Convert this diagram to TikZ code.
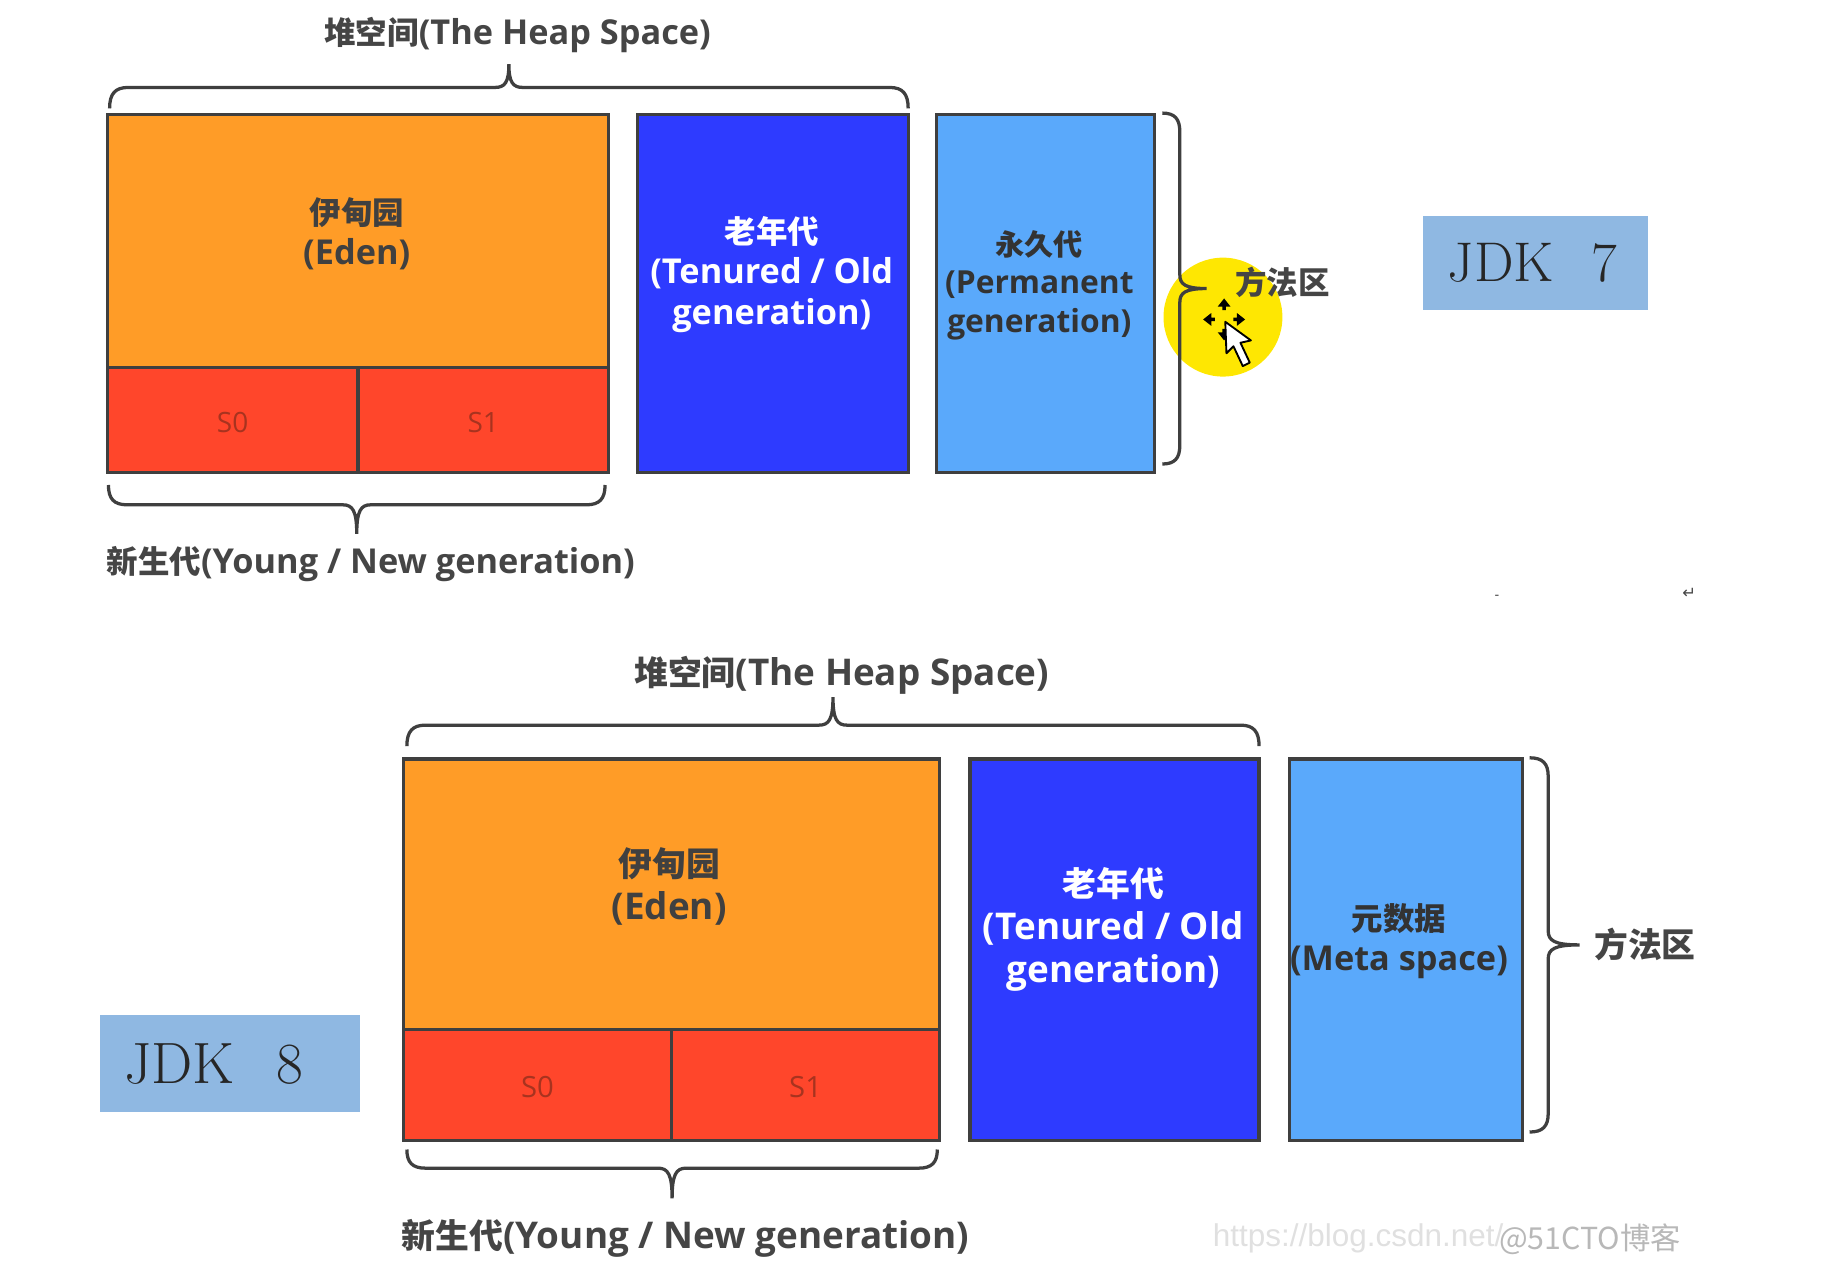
\documentclass[tikz,border=0pt]{standalone}
\usepackage{fontspec}
\newfontfamily\heapfont[Scale=1.09]{Open Sans}
\newfontfamily\zhfont{Noto Sans CJK SC}
\newfontfamily\markfont{Liberation Sans}
\newfontfamily\symfont{DejaVu Sans}
\newcommand{\zh}[1]{{\zhfont #1}}
\usetikzlibrary{positioning,decorations.pathreplacing}
\definecolor{edencol}{HTML}{FF9C27}
\definecolor{survcol}{HTML}{FF462B}
\definecolor{oldcol}{HTML}{2E3BFF}
\definecolor{permcol}{HTML}{5AA9FB}
\definecolor{jdkcol}{HTML}{8FB8E2}
\definecolor{linecol}{HTML}{3F3F3F}
\definecolor{labelcol}{HTML}{454545}
\definecolor{survtext}{HTML}{A8331F}
\pgfdeclaredecoration{softbrace}{brace}{
	\state{brace}[width=+\pgfdecoratedremainingdistance, next state=final]{
		\def\hk{\pgfdecorationsegmentamplitude}
		\def\ln{\pgfdecoratedpathlength}
		\pgfpathmoveto{\pgfpoint{0pt}{0pt}}
		\pgfpathcurveto{\pgfpoint{0pt}{0.7*\hk}}{\pgfpoint{2.4pt}{\hk}}{\pgfpoint{8pt}{\hk}}
		\pgfpathlineto{\pgfpoint{0.5*\ln-6pt}{\hk}}
		\pgfpathcurveto{\pgfpoint{0.5*\ln-1.8pt}{\hk}}{\pgfpoint{0.5*\ln}{\hk+0.2*\bracetip}}{\pgfpoint{0.5*\ln}{\hk+\bracetip}}
		\pgfpathcurveto{\pgfpoint{0.5*\ln}{\hk+0.2*\bracetip}}{\pgfpoint{0.5*\ln+1.8pt}{\hk}}{\pgfpoint{0.5*\ln+6pt}{\hk}}
		\pgfpathlineto{\pgfpoint{\ln-8pt}{\hk}}
		\pgfpathcurveto{\pgfpoint{\ln-2.4pt}{\hk}}{\pgfpoint{\ln}{0.7*\hk}}{\pgfpoint{\ln}{0pt}}
	}
	\state{final}{\pgfpathmoveto{\pgfpointdecoratedpathlast}}
}
\tikzset{
	region/.style = {draw=linecol, line width=1.4pt, rectangle, outer sep=0pt, inner sep=0pt},
	bracket/.style 2 args = {draw=linecol, line width=1.4pt, decorate, decoration={softbrace, amplitude=#1}, /utils/exec={\def\bracetip{#2}}},
	heading/.style = {font=\heapfont\bfseries\fontsize{#1}{#1}\selectfont, text=labelcol, inner sep=0pt},
	inbox/.style 2 args = {font=\heapfont\bfseries\fontsize{#1}{#2}\selectfont, align=center, inner sep=0pt},
	jdkbox/.style = {fill=jdkcol, rectangle, inner sep=0pt, text=black!85},
	survlbl/.style = {font=\heapfont\fontsize{#1}{#1}\selectfont, text=survtext, inner sep=0pt},
}
\begin{document}
\begin{tikzpicture}[x=0.5pt, y=-0.5pt]
	\useasboundingbox (0,0) rectangle (1568,1093);

	% JDK 7
	\node[region, fill=edencol, anchor=north west, minimum width=215pt, minimum height=108.5pt] (eden7) at (92,98) {};
	\node[region, fill=survcol, below right=0pt and 0pt of eden7.south west, minimum width=107.5pt, minimum height=45pt] (sa7) {};
	\node[region, fill=survcol, right=0pt of sa7, minimum width=107.5pt, minimum height=45pt] (sb7) {};
	\node[region, fill=oldcol, below right=0pt and 12.5pt of eden7.north east, minimum width=116pt, minimum height=153.5pt] (old7) {};
	\node[region, fill=permcol, right=12pt of old7, minimum width=93.5pt, minimum height=153.5pt] (perm7) {};
	\node[jdkbox, font=\fontsize{24}{24}\selectfont, minimum width=96.5pt, minimum height=40.5pt] (jdk7) at (1317.5,225.5) {JDK\hspace{16pt}7\hspace{3pt}\null};

	\node[inbox={13.5}{17}, text=black!75] (edenlbl7) at ([shift={(-1,-6)}]eden7) {\zh{伊甸园}\\(Eden)};
	\node[survlbl=11] (salbl7) at ([yshift=-1pt]sa7) {S0};
	\node[survlbl=11] (sblbl7) at ([yshift=-1pt]sb7) {S1};
	\node[inbox={13.5}{17.5}, text=white] (oldlbl7) at ([shift={(-1,-16)}]old7) {\zh{老年代}\\(Tenured / Old\\generation)};
	\node[inbox={12.5}{16.5}, text=black!80] (permlbl7) at ([shift={(-5,-7)}]perm7) {\zh{永久代}\\(Permanent\\generation)};

	\fill[yellow!90!orange] (1049,272) circle (51);
	\draw[bracket={7.5pt}{11.5pt}] ([shift={(7,-1)}]perm7.north east) -- ([shift={(7,-7)}]perm7.south east);
	\foreach \ang in {0,90,180,270} {
		\fill[black, shift={(1050,274)}, rotate=\ang] (8,-1.5) -- (11,-1.5) -- (11,-5.5) -- (18,0) -- (11,5.5) -- (11,1.5) -- (8,1.5) -- cycle;
	}
	\draw[fill=white, line width=0.8pt, line join=round] (1051,276) -- (1052,303) -- (1058,297) -- (1066,314) -- (1072,311) -- (1064,294) -- (1073,292) -- cycle;
	\node[heading=13.5] (methodlbl7) at (1100,242) {\zh{方法区}};

	\draw[bracket={9pt}{10pt}] ([shift={(2,-5)}]eden7.north west) -- ([shift={(0,-5)}]old7.north east);
	\node[heading=13.5] (heaplbl7) at (444,30) {\zh{堆空间}(The Heap Space)};
	\draw[bracket={8.5pt}{12.5pt}] ([shift={(-3,11)}]sb7.south east) -- ([shift={(1,11)}]sa7.south west);
	\node[heading=13.5] (younglbl7) at (318,484) {\zh{新生代}(Young / New generation)};

	% stray marks
	\node[font=\markfont\fontsize{6}{6}\selectfont, text=labelcol, inner sep=0pt] (dashmark) at (1284,512) {-};
	\node[font=\symfont\fontsize{7}{7}\selectfont, text=labelcol, inner sep=0pt] (retmark) at (1449,509) {↵};

	% JDK 8
	\node[region, fill=edencol, anchor=north west, minimum width=230pt, minimum height=116pt] (eden8) at (346,651) {};
	\node[region, fill=survcol, below right=0pt and 0pt of eden8.south west, minimum width=115pt, minimum height=47.5pt] (sa8) {};
	\node[region, fill=survcol, right=0pt of sa8, minimum width=115pt, minimum height=47.5pt] (sb8) {};
	\node[region, fill=oldcol, below right=0pt and 13pt of eden8.north east, minimum width=124pt, minimum height=163.5pt] (old8) {};
	\node[region, fill=permcol, right=13pt of old8, minimum width=100pt, minimum height=163.5pt] (meta8) {};
	\node[jdkbox, font=\fontsize{25}{25}\selectfont, minimum width=111.5pt, minimum height=41.5pt] (jdk8) at (197.5,912.5) {JDK\hspace{18pt}8\hspace{14pt}\null};

	\node[inbox={14.5}{18.5}, text=black!75] (edenlbl8) at ([shift={(-2,-7)}]eden8) {\zh{伊甸园}\\(Eden)};
	\node[survlbl=11.5] (salbl8) at ([yshift=-1pt]sa8) {S0};
	\node[survlbl=11.5] (sblbl8) at ([yshift=-1pt]sb8) {S1};
	\node[inbox={14.5}{18.5}, text=white] (oldlbl8) at ([shift={(-1,-17)}]old8) {\zh{老年代}\\(Tenured / Old\\generation)};
	\node[inbox={13.5}{17}, text=black!80] (metalbl8) at ([shift={(-6,-7)}]meta8) {\zh{元数据}\\(Meta space)};

	\draw[bracket={8pt}{13.5pt}] ([shift={(6,-1)}]meta8.north east) -- ([shift={(6,-7)}]meta8.south east);
	\node[heading=14.5] (methodlbl8) at (1411,810) {\zh{方法区}};

	\draw[bracket={9pt}{12pt}] ([shift={(3,-11)}]eden8.north west) -- ([shift={(0,-11)}]old8.north east);
	\node[heading=14.5] (heaplbl8) at (722,579) {\zh{堆空间}(The Heap Space)};
	\draw[bracket={8pt}{13pt}] ([shift={(-2,8)}]sb8.south east) -- ([shift={(3,8)}]sa8.south west);
	\node[heading=14.5] (younglbl8) at (588,1062) {\zh{新生代}(Young / New generation)};

	\node[font=\markfont\fontsize{13.5}{13.5}\selectfont, text=black!12, inner sep=0pt, anchor=west] (urlmark) at (1040,1062) {https://blog.csdn.net/};
	\node[font=\zhfont\fontsize{13}{13}\selectfont, text=black!28, inner sep=0pt, anchor=east] (sitemark) at (1442,1063) {@51CTO博客};
\end{tikzpicture}
\end{document}
